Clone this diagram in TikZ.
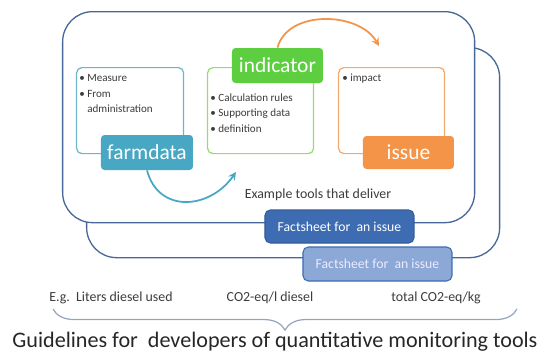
\documentclass[tikz,border=0pt]{standalone}
\usepackage{fontspec}
\setmainfont{Carlito}
\usetikzlibrary{arrows.meta,decorations.pathreplacing}
\definecolor{frameblue}{RGB}{72,104,152}
\definecolor{tealfd}{RGB}{72,168,196}
\definecolor{tealline}{RGB}{110,180,205}
\definecolor{greenind}{RGB}{92,206,64}
\definecolor{greenline}{RGB}{150,220,110}
\definecolor{orangeis}{RGB}{244,148,72}
\definecolor{orangeline}{RGB}{240,170,110}
\definecolor{factdark}{RGB}{62,108,178}
\definecolor{factlight}{RGB}{140,168,214}
\definecolor{bracegray}{RGB}{150,165,190}
\definecolor{txtgray}{RGB}{60,60,60}
\tikzset{
  frame/.style={draw=frameblue, fill=white, line width=0.75pt, rounded corners=0.6cm, anchor=north west, inner sep=0pt},
  contentbox/.style={line width=0.7pt, rounded corners=3pt, fill=white, anchor=north west, inner sep=0pt},
  tagbox/.style={rounded corners=2pt, text=white, inner sep=0pt, font=\fontsize{12.2}{14}\selectfont},
  bullets/.style={anchor=north west, inner sep=0pt, text=txtgray, font=\fontsize{6.3}{8.2}\selectfont},
  factbox/.style={rounded corners=3pt, line width=0.6pt, inner sep=0pt, text=white, font=\fontsize{7.8}{9}\selectfont},
  smalltext/.style={text=txtgray, inner sep=0pt, font=\fontsize{7.9}{9}\selectfont}
}
\begin{document}
\begin{tikzpicture}[x=0.02cm, y=-0.02cm, >=stealth]
  \path[use as bounding box] (0,0) rectangle (539,356);
  % the two frames
  \node[frame, minimum width={413*0.02cm}, minimum height={210*0.02cm}] (backframe) at (86,47) {};
  \node[frame, minimum width={412*0.02cm}, minimum height={211*0.02cm}] (frontframe) at (62,11) {};
  % farmdata
  \node[contentbox, draw=tealline, minimum width={107*0.02cm}, minimum height={86*0.02cm}] (fdbox) at (76,67) {};
  \node[bullets] (fdlist) at (79,71) {\begin{tabular}{@{}l@{\ }l@{}}\textbullet & Measure\\[1pt] \textbullet & From\\ & administration\end{tabular}};
  \node[tagbox, fill=tealfd, minimum width={92*0.02cm}, minimum height={35*0.02cm}] (fd) at (147,152.5) {farmdata};
  % indicator
  \node[contentbox, draw=greenline, minimum width={106*0.02cm}, minimum height={86*0.02cm}] (indbox) at (207,67) {};
  \node[bullets] (indlist) at (210,91) {\begin{tabular}{@{}l@{\ }l@{}}\textbullet & Calculation rules\\[0.5pt] \textbullet & Supporting data\\[0.5pt] \textbullet & definition\end{tabular}};
  \node[tagbox, fill=greenind, minimum width={91*0.02cm}, minimum height={35*0.02cm}] (ind) at (277.5,65.5) {indicator};
  % issue
  \node[contentbox, draw=orangeline, minimum width={106*0.02cm}, minimum height={86*0.02cm}] (isbox) at (338,67) {};
  \node[bullets] (islist) at (342,71) {\begin{tabular}{@{}l@{\ }l@{}}\textbullet & impact\end{tabular}};
  \node[tagbox, fill=orangeis, minimum width={91*0.02cm}, minimum height={33*0.02cm}] (is) at (408.5,152.5) {issue};
  % arcs
  \coordinate (tealend) at (236,172);
  \coordinate (orangeend) at (379,46);
  \draw[->, tealfd, line width=1pt] (fd.south) to[out=-75, in=-125, looseness=1.3] (tealend);
  \draw[->, orangeis, line width=1pt] (ind.north) to[out=75, in=120] (orangeend);
  % tools
  \node[smalltext] (tools) at (318,195) {Example tools that deliver};
  \node[factbox, draw=factdark!85!black, fill=factdark, minimum width={149*0.02cm}, minimum height={33*0.02cm}] (fact1) at (339.5,226.5) {Factsheet for\ \ an issue};
  \node[factbox, draw=factdark, fill=factlight, text=white!92!blue, minimum width={149*0.02cm}, minimum height={34*0.02cm}] (fact2) at (377.5,264) {Factsheet for\ \ an issue};
  % examples and brace
  \node[smalltext] (ex1) at (111,298) {E.g.\ \ Liters diesel used};
  \node[smalltext] (ex2) at (270,298) {CO2-eq/l diesel};
  \node[smalltext] (ex3) at (436,298) {total CO2-eq/kg};
  \coordinate (braceleft) at (53,309);
  \coordinate (braceright) at (517,309);
  \draw[bracegray, line width=0.7pt, decorate, decoration={brace, amplitude=12pt}] (braceright) -- (braceleft);
  \node[inner sep=0pt, font=\fontsize{12.6}{14}\selectfont, text=black!85] (guide) at (275,342) {Guidelines for\ \ developers of quantitative monitoring tools};
\end{tikzpicture}
\end{document}
